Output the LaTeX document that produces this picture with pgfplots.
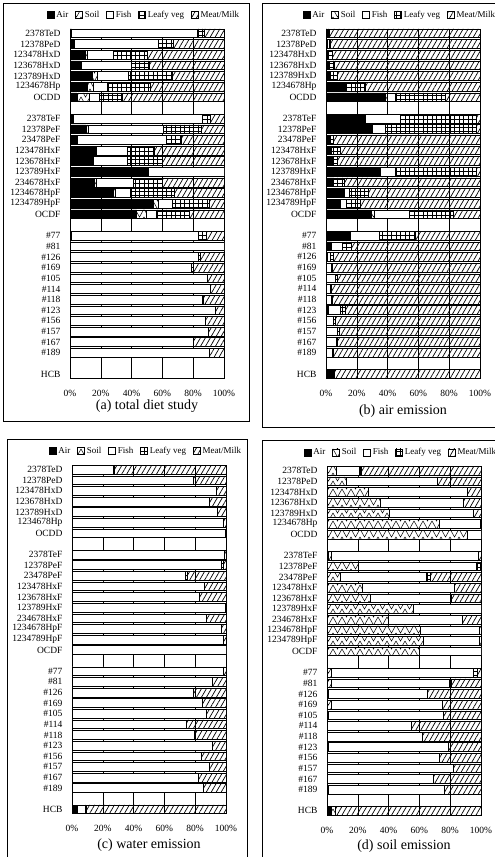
\documentclass[border=0pt]{standalone}
\usepackage{fontspec}
\setmainfont{Liberation Serif}
\usepackage{pgfplots}
\pgfplotsset{compat=1.18}
\usepackage{pgfplotstable}
\usetikzlibrary{patterns,patterns.meta}

\pgfdeclarepatternformonly{zigzag}{\pgfqpoint{-0.5pt}{-0.5pt}}{\pgfqpoint{9.5pt}{8.5pt}}{\pgfqpoint{9pt}{8pt}}{%
 \pgfsetlinewidth{0.5pt}%
 \pgfpathmoveto{\pgfqpoint{0pt}{8pt}}\pgfpathlineto{\pgfqpoint{4.5pt}{0pt}}\pgfpathlineto{\pgfqpoint{9pt}{8pt}}\pgfusepath{stroke}}
\pgfdeclarepatternformonly{leafgrid}{\pgfqpoint{-0.5pt}{-0.5pt}}{\pgfqpoint{5pt}{4.5pt}}{\pgfqpoint{4.5pt}{4pt}}{%
 \pgfsetlinewidth{0.5pt}%
 \pgfpathmoveto{\pgfqpoint{0pt}{0pt}}\pgfpathlineto{\pgfqpoint{0pt}{4pt}}%
 \pgfpathmoveto{\pgfqpoint{0pt}{2pt}}\pgfpathlineto{\pgfqpoint{4.5pt}{2pt}}\pgfusepath{stroke}}

\pgfplotstableread{
y air soil fish leafy meat
0 1 0 81.5 4.5 13
1 2.5 0 55 9.5 33
2 10 1.5 16.5 22 50
3 6.5 1 32 12 48.5
4 14.2 3.3 20 29 33.5
5 11 4 9 28.4 47.6
6 4.5 8 6.5 15 66
8 1.5 0.5 84.2 5 8.8
9 10.5 1.5 48.7 24.5 14.8
10 4.8 0 58 9.2 28
11 17 0 20 17.5 45.5
12 15.3 0 21.8 23 39.9
13 50.9 0 49.1 0 0
14 16 1 24 19 40
15 28 1.5 9.8 28.4 32.3
16 54 3.3 9.2 24 9.5
17 43.2 6.6 6.5 21.2 22.5
19 0.5 0 82.5 5.4 11.6
20 0 0 100 0 0
21 0 0 83 1.7 15.3
22 0 0 79 1.3 19.7
23 0 0 88.9 0 11.1
24 0 0 91.3 0 8.7
25 0 0 85.8 0.9 13.3
26 0 0 94.5 0 5.5
27 0 0 87.8 0 12.2
28 0 0 90 0 10
29 0 0 80.3 0 19.7
30 0 0 90.6 0 9.4
32 0 0 0 0 0
}\tabA

\pgfplotstableread{
y air soil fish leafy meat
0 0.8 0 0.5 1 97.7
1 0.5 0 1.5 1 97
2 1 0 0.5 2.5 96
3 1.7 0 0.5 3 94.8
4 2.2 0 0.5 4.3 93
5 12.3 0 1 12 74.7
6 38.3 1.5 5 32.5 22.7
8 25.3 0 22.7 49.8 2.2
9 30.3 0 8 59.5 2.2
10 2 0 0.5 2.2 95.3
11 3.7 0 0 5.4 90.9
12 3.2 0 1 3 92.8
13 35.5 0 9.3 53 2.2
14 4.8 0 0 6.9 88.3
15 11.7 0 3.5 12.3 72.5
16 9.5 0 3.9 8.6 78
17 29.7 1.5 23 28.6 17.2
19 15.6 0 19 23.2 42.2
20 3.7 0 7.1 5.9 83.3
21 0.8 0 2.2 2 95
22 0.3 0 3 1 95.7
23 0.3 0 5.5 1.5 92.7
24 0.3 0 2.3 0.7 96.7
25 0.3 0 3.4 0.6 95.7
26 1.5 0 8 2.8 87.7
27 0.3 0 4.5 1 94.2
28 0.3 0 7 1.3 91.4
29 0.3 0 6.2 0.5 93
30 0.3 0 4 0.5 95.2
32 4.8 0 0.5 0 94.7
}\tabB

\pgfplotstableread{
y air soil fish leafy meat
0 0 0 27 0.5 72.5
1 0 0 79 0 21
2 0 0 93.5 0 6.5
3 0 0 89.4 0 10.6
4 0 0 94.6 0 5.4
5 0 0 98.5 0 1.5
6 0 0 99.7 0 0.3
8 0 0 99 0 1
9 0 0 97 1.5 1.5
10 0 0 73.6 1 25.4
11 0 0 85.9 0 14.1
12 0 0 82.7 0 17.3
13 0 0 99.3 0 0.7
14 0 0 87 0 13
15 0 0 96.8 0 3.2
16 0 0 98.5 0 1.5
17 0 0 100 0 0
19 0 0 98 0.5 1.5
20 0 0 90.9 0 9.1
21 0 0 78.6 0 21.4
22 0 0 84.4 0 15.6
23 0 0 87 0 13
24 0 0 74 0 26
25 0 0 79.4 0 20.6
26 0 0 90.9 0 9.1
27 0 0 83.8 0 16.2
28 0 0 89.2 0 10.8
29 0 0 82.3 0 17.7
30 0 0 85.5 0 14.5
32 3.2 0 5.5 0.5 90.8
}\tabC

\pgfplotstableread{
y air soil fish leafy meat
0 0 6.1 14.8 1.5 77.6
1 0 12.6 59.1 0 28.3
2 0 26.7 64.6 0 8.7
3 0 34.3 54 0 11.7
4 0 40.4 54.4 0 5.2
5 0 73 26.5 0 0.5
6 0 91.3 8.7 0 0
8 0.5 2.3 95.7 0 1.5
9 0 20.2 76.5 2.8 0.5
10 0 8.7 55.6 2.6 33.1
11 0 23 59.6 0 17.4
12 0 27.8 52.2 0.5 19.5
13 0 56.1 43.9 0 0
14 0 39.8 47.8 0 12.4
15 0 60.4 38.7 0 0.9
16 0 62.6 36.5 0 0.9
17 0 59.8 40.2 0 0
19 0 2.8 92 2.6 2.6
20 0 2.8 76.8 1 19.4
21 0 1 63.8 0 35.2
22 0 2.8 71.8 0 25.4
23 0 0.5 75.2 0 24.3
24 0 0.3 54.3 0 45.4
25 0 0.3 61.7 0 38
26 0 0.5 78.5 0 21
27 0 0.3 72.5 0 27.2
28 0 0.3 81.4 0 18.3
29 0 0.3 68.8 0 30.9
30 0 1 75.3 0 23.7
32 2.8 2.8 0 0 94.4
}\tabD

\pgfplotsset{
 panel/.style={
  xbar stacked, scale only axis, width=154pt,
  xmin=0, xmax=100, ymin=-0.41, ymax=32.41, y dir=reverse,
  bar width=0.82,
  xtick={0,20,...,100}, xticklabel={\pgfmathprintnumber{\tick}\%},
  ytick={0,1,2,3,4,5,6,8,9,10,11,12,13,14,15,16,17,19,20,21,22,23,24,25,26,27,28,29,30,32},
  yticklabels={2378TeD,12378PeD,123478HxD,123678HxD,123789HxD,1234678Hp,OCDD,
   2378TeF,12378PeF,23478PeF,123478HxF,123678HxF,123789HxF,234678HxF,1234678HpF,1234789HpF,OCDF,
   \#77,\#81,\#126,\#169,\#105,\#114,\#118,\#123,\#156,\#157,\#167,\#189,HCB},
  major tick length=0,
  xmajorgrids, grid style={black, line width=0.5pt},
  axis line style={line width=0.7pt},
  tick label style={font=\fontsize{9.5}{10}\selectfont},
  xticklabel style={yshift=-8pt},
  yticklabel style={xshift=-6pt},
  /pgf/number format/assume math mode=true,
  legend columns=5,
  legend style={draw=none, fill=none, at={(0.5,1)}, anchor=center, yshift=14pt, xshift=-3pt,
    font=\fontsize{9}{10}\selectfont, inner sep=0pt,
    /tikz/every even column/.append style={column sep=5pt}},
  legend image code/.code={\draw[##1,line width=0.5pt] (0pt,-3.5pt) rectangle (7pt,3.5pt);},
  xlabel style={font=\fontsize{14}{16}\selectfont, at={(rel axis cs:0.5,0)}, anchor=center},
  every axis plot/.append style={draw=black, line width=0.5pt},
 },
 pA/.style={fill=black},
 pS/.style={fill=white, postaction={pattern=zigzag}},
 pF/.style={fill=white},
 pL/.style={pattern=leafgrid},
 pM/.style={pattern={Lines[angle=60,distance=4.3pt,line width=0.7pt]}},
}

\newcommand{\stackplots}[1]{%
  \addplot[pA] table[x=air,y=y]{#1};
  \addplot[pS] table[x=soil,y=y]{#1};
  \addplot[pF] table[x=fish,y=y]{#1};
  \addplot[pL] table[x=leafy,y=y]{#1};
  \addplot[pM] table[x=meat,y=y]{#1};
  \legend{Air,Soil,Fish,Leafy veg,Meat/Milk}
}

\begin{document}
\begin{tikzpicture}[x=1pt,y=1pt]
\useasboundingbox (0,0) rectangle (495,857);

\begin{axis}[panel, height=349.4pt, at={(70pt,828pt)}, anchor=north west,
  xlabel={(a) total diet study}, xlabel style={yshift=-27.3pt}]
\stackplots{\tabA}
\end{axis}

\begin{axis}[panel, height=349.4pt, at={(326pt,828.1pt)}, anchor=north west,
  xlabel={(b) air emission}, xlabel style={yshift=-32.4pt}]
\stackplots{\tabB}
\end{axis}

\begin{axis}[panel, height=348.4pt, at={(72pt,391.8pt)}, anchor=north west,
  xlabel={(c) water emission}, xlabel style={yshift=-31.3pt}]
\stackplots{\tabC}
\end{axis}

\begin{axis}[panel, height=348.9pt, at={(327pt,390.7pt)}, anchor=north west,
  xlabel={(d) soil emission}, xlabel style={yshift=-30.7pt}]
\stackplots{\tabD}
\end{axis}

\draw[line width=0.8pt] (3,854) rectangle (249,436);
\draw[line width=0.8pt] (262,854) rectangle (496,430);
\draw[line width=0.8pt] (7,418) rectangle (247,-2);
\draw[line width=0.8pt] (262.5,417) rectangle (496,-2);
\end{tikzpicture}
\end{document}
